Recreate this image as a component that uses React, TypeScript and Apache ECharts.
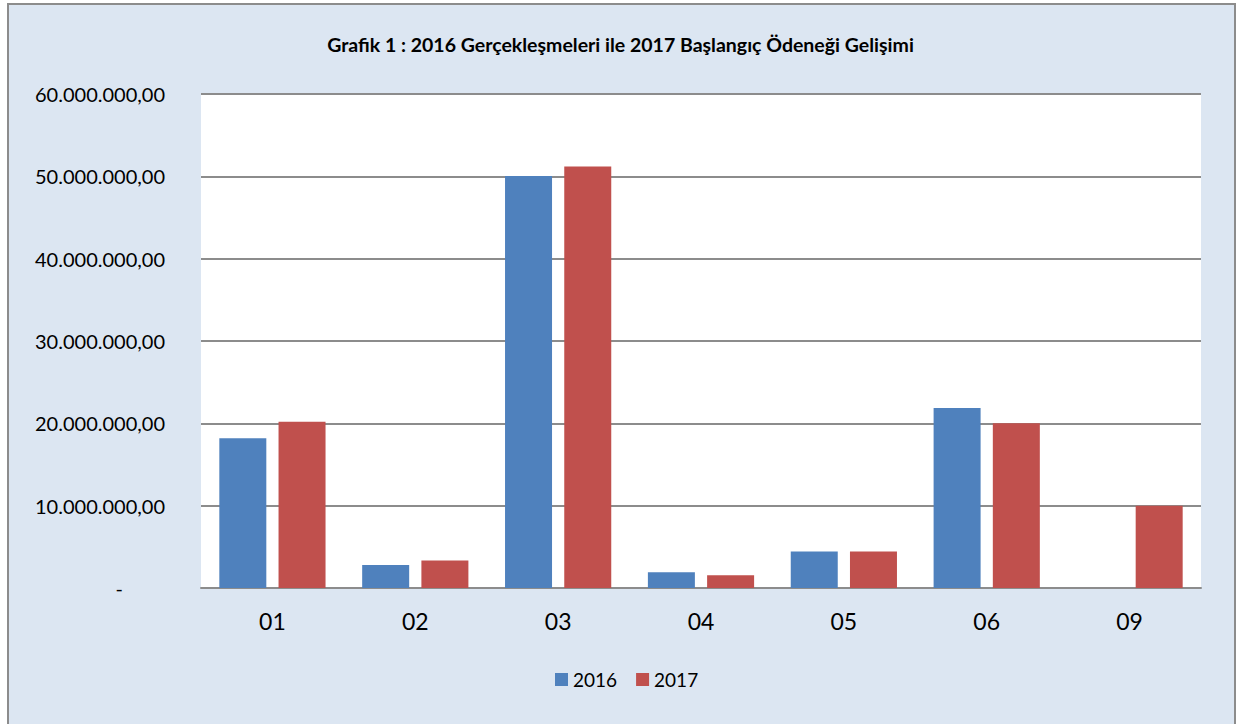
import React, { useEffect, useRef } from "react";
import * as echarts from "echarts";

const categories = ["01", "02", "03", "04", "05", "06", "09"];
const values2016 = [18200000, 2800000, 50050000, 1900000, 4440000, 21850000, 0];
const values2017 = [20200000, 3350000, 51200000, 1560000, 4440000, 20000000, 10000000];
const seriesNames = ["2016", "2017"];
const titleText = "Grafik 1 : 2016 Gerçekleşmeleri ile 2017 Başlangıç Ödeneği Gelişimi";

function fmt(v: number): string {
  if (v === 0) return "{z|-}";
  const s = Math.round(v).toString().replace(/\B(?=(\d{3})+(?!\d))/g, ".");
  return s + ",00";
}

export default function App() {
  const ref = useRef<HTMLDivElement>(null);
  useEffect(() => {
    if (!ref.current) return;
    const chart = echarts.init(ref.current, null, { renderer: "svg" });
    chart.setOption({
      animation: false,
      backgroundColor: "#ffffff",
      textStyle: { fontFamily: "Lato" },
      graphic: [
        {
          type: "rect",
          z: -10,
          silent: true,
          shape: { x: 8, y: 4, width: 1227, height: 730 },
          style: { fill: "#dce6f2", stroke: "#8c8c8c", lineWidth: 2 },
        },
        {
          type: "text",
          left: "center",
          top: 34,
          style: {
            text: titleText,
            font: "bold 19.5px Lato",
            fill: "#000000",
          },
        },
      ],
      grid: {
        left: 201,
        right: 40,
        top: 94,
        bottom: 136,
        show: true,
        backgroundColor: "#ffffff",
        borderWidth: 0,
      },
      legend: {
        data: seriesNames,
        bottom: 30,
        left: 550,
        itemWidth: 13,
        itemHeight: 13,
        itemGap: 19,
        icon: "rect",
        textStyle: { fontSize: 19, color: "#000", fontFamily: "Lato" },
      },
      xAxis: {
        type: "category",
        data: categories,
        axisLine: { show: true, lineStyle: { color: "#8c8c8c", width: 2 } },
        axisTick: { show: false },
        axisLabel: { fontSize: 23, color: "#000", margin: 21, fontFamily: "Lato" },
      },
      yAxis: {
        type: "value",
        min: 0,
        max: 60000000,
        interval: 10000000,
        axisLine: { show: false },
        axisTick: { show: false },
        splitLine: { lineStyle: { color: "#8c8c8c", width: 2 } },
        axisLabel: {
          fontSize: 20,
          color: "#000",
          margin: 36,
          fontFamily: "Lato",
          formatter: fmt,
          rich: { z: { fontSize: 20, fontFamily: "Lato", color: "#000", padding: [0, 42, 0, 0] } },
        },
      },
      series: [
        {
          name: seriesNames[0],
          type: "bar",
          data: values2016,
          barWidth: 47,
          barGap: "26%",
          itemStyle: { color: "#4f81bd" },
        },
        {
          name: seriesNames[1],
          type: "bar",
          data: values2017,
          barWidth: 47,
          barGap: "26%",
          itemStyle: { color: "#c0504d" },
        },
      ],
    });
    return () => chart.dispose();
  }, []);
  return (
    <div
      ref={ref}
      style={{ position: "fixed", left: 0, top: 0, width: 1241, height: 724 }}
    />
  );
}
